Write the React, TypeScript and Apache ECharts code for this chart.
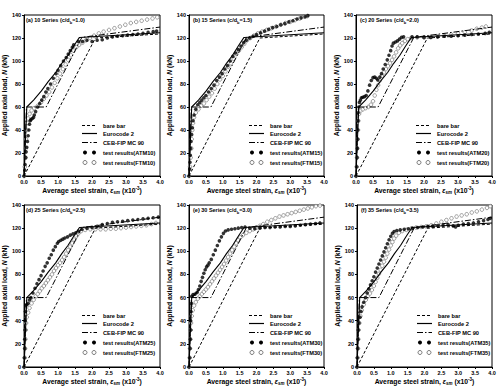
import React, { useEffect, useRef } from 'react';
import * as echarts from 'echarts';

// ---------- data ----------
const xTickValues = [0, 0.5, 1.0, 1.5, 2.0, 2.5, 3.0, 3.5, 4.0];
const yTickValues = [0, 20, 40, 60, 80, 100, 120, 140];

const panelLetters = ['a', 'b', 'c', 'd', 'e', 'f'];
const seriesTags = ['10', '15', '20', '25', '30', '35'];
const cdRatios = ['1.0', '1.5', '2.0', '2.5', '3.0', '3.5'];

const bareBar = [[0, 0], [2.1, 120], [4.0, 123.5]];
const eurocode2 = [[0, 0], [0.08, 60], [0.28, 66], [0.51, 74], [0.71, 82], [0.93, 90], [1.11, 98], [1.29, 105], [1.46, 113], [1.63, 120.5], [4.0, 124.5]];
const cebFip = [[0, 0], [0.07, 60], [0.65, 60], [1.7, 120.5], [4.0, 129.5]];

const atm10 = [[0, 0], [0.02, 5], [0.03, 10], [0.05, 16], [0.06, 21], [0.08, 25], [0.1, 30], [0.12, 35], [0.14, 40], [0.16, 45], [0.18, 48], [0.2, 49], [0.24, 50], [0.28, 51], [0.3, 53], [0.34, 56], [0.4, 60], [0.46, 63], [0.52, 66], [0.58, 69], [0.64, 73], [0.7, 76], [0.78, 80], [0.86, 85], [0.94, 89], [1.0, 92], [1.08, 96], [1.16, 100], [1.24, 103], [1.3, 106], [1.36, 109], [1.42, 112], [1.46, 114], [1.6, 117], [1.72, 117], [1.85, 118], [2.0, 117], [2.15, 118], [2.3, 118.5], [2.45, 120], [2.6, 121], [2.75, 121.5], [2.9, 122], [3.05, 122.5], [3.2, 123], [3.35, 123.5], [3.5, 124], [3.65, 125], [3.8, 125.5], [3.9, 126]];
const ftm10 = [[0, 0], [0.02, 8], [0.04, 16], [0.05, 24], [0.06, 32], [0.08, 40], [0.1, 46], [0.12, 50], [0.16, 54], [0.22, 57], [0.3, 59], [0.4, 61], [0.5, 64], [0.58, 67], [0.66, 70], [0.74, 73], [0.82, 77], [0.9, 81], [0.98, 85], [1.06, 89], [1.14, 93], [1.22, 97], [1.3, 101], [1.38, 105], [1.46, 109], [1.54, 112], [1.62, 114], [1.72, 116], [1.82, 118], [1.94, 120], [2.06, 122], [2.2, 124], [2.34, 125.5], [2.5, 127], [2.66, 128.5], [2.82, 130], [2.98, 131.5], [3.14, 133], [3.3, 134], [3.46, 135], [3.62, 136], [3.78, 137], [3.92, 138]];

const atm15 = [[0, 0], [0.02, 6], [0.03, 12], [0.04, 18], [0.05, 24], [0.06, 30], [0.08, 36], [0.1, 42], [0.12, 48], [0.15, 53], [0.2, 58], [0.26, 62], [0.32, 64], [0.38, 66], [0.44, 68], [0.5, 70], [0.58, 73], [0.66, 76], [0.74, 79], [0.82, 83], [0.9, 86], [0.98, 89], [1.06, 93], [1.14, 96], [1.22, 100], [1.3, 104], [1.38, 107], [1.46, 110], [1.54, 113], [1.62, 116], [1.7, 118], [1.8, 120], [1.9, 121.5], [2.0, 123], [2.12, 124.5], [2.24, 126], [2.36, 127.5], [2.48, 129], [2.6, 130], [2.72, 131.5], [2.84, 132.5], [2.96, 134], [3.08, 135], [3.2, 136.5], [3.32, 137.5], [3.44, 138.5], [3.52, 139.5]];
const ftm15 = [[0, 0], [0.03, 8], [0.05, 16], [0.07, 24], [0.08, 32], [0.1, 40], [0.12, 46], [0.15, 51], [0.2, 55], [0.28, 58], [0.36, 61], [0.44, 63], [0.52, 66], [0.6, 69], [0.68, 72], [0.76, 76], [0.84, 80], [0.92, 84], [1.0, 87], [1.08, 91], [1.16, 95], [1.24, 98], [1.32, 102], [1.4, 106], [1.48, 109], [1.56, 112], [1.64, 115], [1.72, 118], [1.82, 120], [1.92, 122], [2.04, 124], [2.16, 125.5], [2.3, 127], [2.44, 128.5], [2.58, 130], [2.72, 131.5], [2.86, 133], [3.0, 134], [3.14, 135.5], [3.28, 137], [3.42, 138.5], [3.5, 139]];

const atm20 = [[0, 0], [0.02, 8], [0.03, 16], [0.04, 24], [0.05, 32], [0.05, 40], [0.06, 48], [0.06, 55], [0.08, 60], [0.1, 64], [0.13, 66], [0.16, 68], [0.2, 68.5], [0.25, 69], [0.3, 70], [0.35, 74], [0.4, 79], [0.45, 83], [0.5, 85.5], [0.55, 86], [0.6, 85], [0.64, 83.5], [0.7, 86], [0.75, 89], [0.8, 93], [0.86, 97], [0.92, 101], [0.97, 105], [1.02, 109], [1.06, 113], [1.1, 115.5], [1.16, 116.5], [1.22, 117.5], [1.28, 119], [1.34, 120.5], [1.4, 121], [1.65, 121], [1.8, 121], [2.0, 120.5], [2.2, 120.5], [2.4, 121], [2.6, 121.5], [2.8, 121.5], [3.0, 122], [3.2, 122.5], [3.4, 123], [3.6, 123.5], [3.8, 124], [3.92, 125]];
const ftm20 = [[0, 0], [0.02, 8], [0.03, 16], [0.04, 24], [0.05, 32], [0.06, 40], [0.07, 48], [0.09, 54], [0.14, 57], [0.2, 58], [0.28, 59], [0.36, 60], [0.44, 62], [0.5, 65], [0.55, 70], [0.6, 75], [0.65, 79], [0.7, 83], [0.76, 87], [0.82, 90], [0.88, 93], [0.94, 95.5], [1.0, 98], [1.06, 101], [1.12, 104], [1.18, 107.5], [1.24, 111], [1.3, 113.5], [1.36, 115.5], [1.44, 117.5], [1.52, 119], [1.62, 120], [1.8, 120.5], [2.0, 120.5], [2.2, 121], [2.4, 121.5], [2.6, 122], [2.8, 123], [3.0, 124], [3.2, 125], [3.4, 126.5], [3.55, 128], [3.7, 129], [3.82, 130]];

const atm25 = [[0, 0], [0.01, 8], [0.02, 16], [0.02, 24], [0.03, 32], [0.03, 40], [0.04, 48], [0.05, 53], [0.08, 54], [0.12, 55], [0.16, 58], [0.2, 60], [0.26, 64], [0.32, 68], [0.38, 72], [0.44, 75.5], [0.5, 79], [0.56, 83], [0.62, 87], [0.68, 90], [0.74, 94], [0.8, 97], [0.86, 101], [0.92, 104], [0.98, 107], [1.02, 108.5], [1.08, 109.5], [1.14, 110.5], [1.2, 111.5], [1.28, 112.5], [1.36, 114], [1.44, 115], [1.52, 116], [1.6, 117.5], [1.7, 119], [1.85, 120], [2.0, 120.5], [2.15, 121.5], [2.3, 123], [2.45, 124], [2.6, 125], [2.75, 125.5], [2.9, 126], [3.05, 126.5], [3.2, 127], [3.35, 127.5], [3.5, 128], [3.65, 128.5], [3.8, 129], [3.95, 129.5]];
const ftm25 = [[0, 0], [0.02, 8], [0.03, 16], [0.04, 24], [0.05, 32], [0.06, 38], [0.08, 43], [0.12, 47], [0.16, 51], [0.22, 55], [0.28, 58], [0.34, 61], [0.4, 63], [0.46, 65.5], [0.52, 68], [0.58, 70], [0.64, 72.5], [0.7, 75], [0.76, 77.5], [0.82, 80], [0.88, 83], [0.94, 85.5], [1.0, 88], [1.06, 90], [1.12, 92.5], [1.18, 95], [1.24, 98], [1.3, 101], [1.36, 104], [1.42, 107], [1.48, 110], [1.54, 113], [1.6, 115.5], [1.68, 117.5], [1.8, 118.5], [1.95, 119], [2.1, 119], [2.25, 119], [2.4, 119], [2.55, 119.5], [2.7, 119.5], [2.85, 120], [3.0, 120.5], [3.15, 121], [3.3, 121.5], [3.45, 122], [3.6, 122.5], [3.75, 123.5], [3.88, 124.5]];

const atm30 = [[0, 0], [0.02, 8], [0.03, 16], [0.04, 24], [0.05, 32], [0.05, 40], [0.06, 48], [0.07, 55], [0.08, 61], [0.12, 62.5], [0.18, 63], [0.24, 64.5], [0.28, 67], [0.32, 70], [0.36, 74], [0.4, 77.5], [0.44, 81], [0.48, 84], [0.52, 86.5], [0.56, 88], [0.6, 90], [0.66, 93], [0.72, 97], [0.78, 101], [0.84, 105], [0.9, 109], [0.96, 112.5], [1.02, 115.5], [1.08, 117.5], [1.16, 118.5], [1.26, 119], [1.36, 119.5], [1.46, 120], [1.56, 120.5], [1.66, 121], [1.8, 120], [1.95, 119.5], [2.1, 120], [2.25, 120.5], [2.4, 120.5], [2.55, 121], [2.7, 121], [2.85, 121.5], [3.0, 121.5], [3.15, 122], [3.3, 122.5], [3.45, 123], [3.6, 123.5], [3.75, 124], [3.88, 124.5]];
const ftm30 = [[0, 0], [0.02, 8], [0.03, 16], [0.04, 24], [0.05, 32], [0.06, 38], [0.08, 44], [0.11, 49], [0.15, 53], [0.2, 56], [0.26, 59], [0.32, 61], [0.38, 63], [0.44, 65], [0.5, 67], [0.56, 69], [0.62, 71.5], [0.68, 74], [0.74, 76.5], [0.8, 79], [0.86, 81.5], [0.92, 84], [0.98, 86.5], [1.04, 89], [1.1, 92], [1.16, 95], [1.22, 98], [1.28, 101], [1.34, 104], [1.4, 107], [1.46, 109.5], [1.52, 112], [1.6, 114], [1.7, 116], [1.8, 117.5], [1.9, 119], [2.0, 120.5], [2.1, 122], [2.2, 123.5], [2.32, 125.5], [2.44, 127], [2.56, 128.5], [2.68, 130], [2.8, 131], [2.92, 132], [3.04, 133], [3.16, 134], [3.28, 135], [3.4, 136], [3.52, 137], [3.64, 138], [3.76, 139], [3.88, 139.5]];

const atm35 = [[0, 0], [0.01, 8], [0.02, 16], [0.03, 24], [0.04, 32], [0.06, 38], [0.09, 43], [0.12, 48], [0.15, 52], [0.2, 56], [0.25, 60], [0.3, 64], [0.35, 67.5], [0.4, 71], [0.45, 74.5], [0.5, 78], [0.55, 82], [0.6, 85.5], [0.65, 89], [0.7, 92.5], [0.75, 96], [0.8, 99.5], [0.85, 103], [0.9, 106.5], [0.95, 110], [1.0, 113], [1.05, 115.5], [1.1, 117], [1.18, 118], [1.28, 118.5], [1.4, 119], [1.52, 119.5], [1.64, 120], [1.8, 120.5], [1.95, 121], [2.1, 121.5], [2.25, 121.5], [2.4, 122], [2.55, 122.5], [2.7, 123], [2.85, 122], [2.92, 121], [3.0, 122.5], [3.15, 123.5], [3.3, 124], [3.45, 124.5], [3.6, 125.5], [3.75, 126.5], [3.88, 127.5], [3.95, 128.5]];
const ftm35 = [[0, 0], [0.02, 8], [0.03, 16], [0.04, 24], [0.05, 32], [0.07, 38], [0.1, 44], [0.14, 49], [0.2, 54], [0.26, 58], [0.32, 61], [0.38, 63.5], [0.44, 66.5], [0.5, 70], [0.55, 73.5], [0.6, 77], [0.65, 80.5], [0.7, 84], [0.75, 87.5], [0.8, 91], [0.85, 94.5], [0.9, 98], [0.95, 101.5], [1.0, 105], [1.05, 108], [1.1, 111], [1.16, 113.5], [1.24, 116], [1.34, 117.5], [1.46, 118.5], [1.6, 119.5], [1.75, 120.5], [1.9, 121], [2.05, 121.5], [2.2, 122.5], [2.35, 124], [2.5, 125.5], [2.65, 127], [2.8, 128.5], [2.95, 130], [3.1, 131], [3.25, 132], [3.4, 133.5], [3.55, 134.5], [3.7, 136], [3.85, 137.5], [3.95, 139]];

const atmSets = [atm10, atm15, atm20, atm25, atm30, atm35];
const ftmSets = [ftm10, ftm15, ftm20, ftm25, ftm30, ftm35];

// ---------- layout ----------
const FONT = 'Liberation Sans, Arial, Helvetica, sans-serif';
const panels = [
  { left: 22, top: 15, width: 138, height: 161 },
  { left: 189, top: 15, width: 135, height: 161 },
  { left: 356, top: 15, width: 136, height: 161 },
  { left: 22, top: 205, width: 138, height: 162 },
  { left: 189, top: 205, width: 135, height: 162 },
  { left: 357, top: 205, width: 135, height: 162 },
];

const DASH = [3, 2];
const DASHDOT = [6, 2, 1.5, 2];

function buildOption() {
  const grid: any[] = [];
  const xAxis: any[] = [];
  const yAxis: any[] = [];
  const series: any[] = [];
  const graphic: any[] = [];

  const tickLabel = { fontSize: 5.5, fontWeight: 'bold', color: '#000', fontFamily: FONT };
  const titleRich = {
    n: { fontSize: 6.8, fontWeight: 'bold', color: '#000', fontFamily: FONT, lineHeight: 9 },
    e: { fontSize: 6.8, fontWeight: 'bold', fontStyle: 'italic', color: '#000', fontFamily: FONT, lineHeight: 9 },
    s: { fontSize: 4.5, fontWeight: 'bold', fontStyle: 'italic', color: '#000', fontFamily: FONT, lineHeight: 6, verticalAlign: 'bottom' },
    p: { fontSize: 4.5, fontWeight: 'bold', color: '#000', fontFamily: FONT, lineHeight: 6, verticalAlign: 'top' },
  };

  panels.forEach((p, i) => {
    grid.push({ ...p, show: true, borderColor: '#000', borderWidth: 1, backgroundColor: 'transparent' });
    xAxis.push({
      gridIndex: i, type: 'value', min: 0, max: 4, interval: 0.5,
      axisLine: { show: true, onZero: false, lineStyle: { color: '#000', width: 1 } },
      axisTick: { show: true, length: 2, lineStyle: { color: '#000' } },
      splitLine: { show: false },
      axisLabel: { ...tickLabel, margin: 3, formatter: (v: number) => v.toFixed(1), showMaxLabel: true, showMinLabel: true },
      name: '{n|Average steel strain, }{e|ε}{s|sm}{n| (x10}{p|-3}{n|)}',
      nameLocation: 'middle', nameGap: 10,
      nameTextStyle: { rich: titleRich },
    });
    yAxis.push({
      gridIndex: i, type: 'value', min: 0, max: 140, interval: 20,
      axisLine: { show: true, onZero: false, lineStyle: { color: '#000', width: 1 } },
      axisTick: { show: true, length: 2, lineStyle: { color: '#000' } },
      splitLine: { show: false },
      axisLabel: { ...tickLabel, margin: 3 },
      name: '{n|Applied axial load, }{e|N}{n| (kN)}',
      nameLocation: 'middle', nameGap: 12,
      nameTextStyle: { rich: titleRich },
    });

    const common = { xAxisIndex: i, yAxisIndex: i, animation: false, silent: true };
    series.push({ ...common, type: 'line', name: 'bare bar', data: bareBar, symbol: 'none', lineStyle: { color: '#000', width: 1, type: DASH } });
    series.push({ ...common, type: 'line', name: 'Eurocode 2', data: eurocode2, symbol: 'none', lineStyle: { color: '#000', width: 1.1 } });
    series.push({ ...common, type: 'line', name: 'CEB-FIP MC 90', data: cebFip, symbol: 'none', lineStyle: { color: '#000', width: 1, type: DASHDOT } });
    series.push({ ...common, type: 'scatter', name: 'FTM' + seriesTags[i], data: ftmSets[i], symbol: 'circle', symbolSize: 3.6, itemStyle: { color: '#fff', borderColor: '#666', borderWidth: 0.8 } });
    series.push({ ...common, type: 'scatter', name: 'ATM' + seriesTags[i], data: atmSets[i], symbol: 'circle', symbolSize: 3.6, itemStyle: { color: '#000' } });

    // panel label
    graphic.push({
      type: 'text', left: p.left + 4, top: p.top + 2, silent: true,
      style: {
        text: `{n|(${panelLetters[i]}) ${seriesTags[i]} Series (c/d}{s|b}{n|=${cdRatios[i]})}`,
        rich: {
          n: { fontSize: 5.5, fontWeight: 'bold', fill: '#000', fontFamily: FONT, lineHeight: 8 },
          s: { fontSize: 4, fontWeight: 'bold', fill: '#000', fontFamily: FONT, lineHeight: 5, verticalAlign: 'bottom' },
        },
      },
    });

    // legend
    const lx1 = p.left + 60, lx2 = p.left + 75, tx = p.left + 81;
    const rows = [p.top + 110.5, p.top + 118.5, p.top + 127.5, p.top + 137.5, p.top + 147.5];
    const labels = ['bare bar', 'Eurocode 2', 'CEB-FIP MC 90', `test results(ATM${seriesTags[i]})`, `test results(FTM${seriesTags[i]})`];
    const dashes: any[] = [DASH, null, DASHDOT];
    for (let k = 0; k < 3; k++) {
      graphic.push({
        type: 'line', silent: true,
        shape: { x1: lx1, y1: rows[k], x2: lx2, y2: rows[k] },
        style: { stroke: '#000', lineWidth: k === 1 ? 1.2 : 1, lineDash: dashes[k] || undefined },
      });
    }
    [p.left + 63, p.left + 72].forEach((cx) => {
      graphic.push({ type: 'circle', silent: true, shape: { cx, cy: rows[3], r: 2 }, style: { fill: '#000' } });
      graphic.push({ type: 'circle', silent: true, shape: { cx, cy: rows[4], r: 2 }, style: { fill: '#fff', stroke: '#555', lineWidth: 0.8 } });
    });
    labels.forEach((t, k) => {
      graphic.push({
        type: 'text', silent: true, x: tx, y: rows[k],
        style: { text: t, fontSize: 5.7, fontWeight: 'bold', fill: '#000', fontFamily: FONT, verticalAlign: 'middle', align: 'left' },
      });
    });
  });

  return { animation: false, backgroundColor: '#fff', grid, xAxis, yAxis, series, graphic };
}

export default function App() {
  const ref = useRef<HTMLDivElement>(null);
  useEffect(() => {
    if (!ref.current) return;
    const chart = echarts.init(ref.current, undefined, { renderer: 'svg' });
    chart.setOption(buildOption() as any);
    return () => chart.dispose();
  }, []);
  return <div ref={ref} style={{ position: 'fixed', left: 0, top: 0, width: 500, height: 387, background: '#fff' }} />;
}
